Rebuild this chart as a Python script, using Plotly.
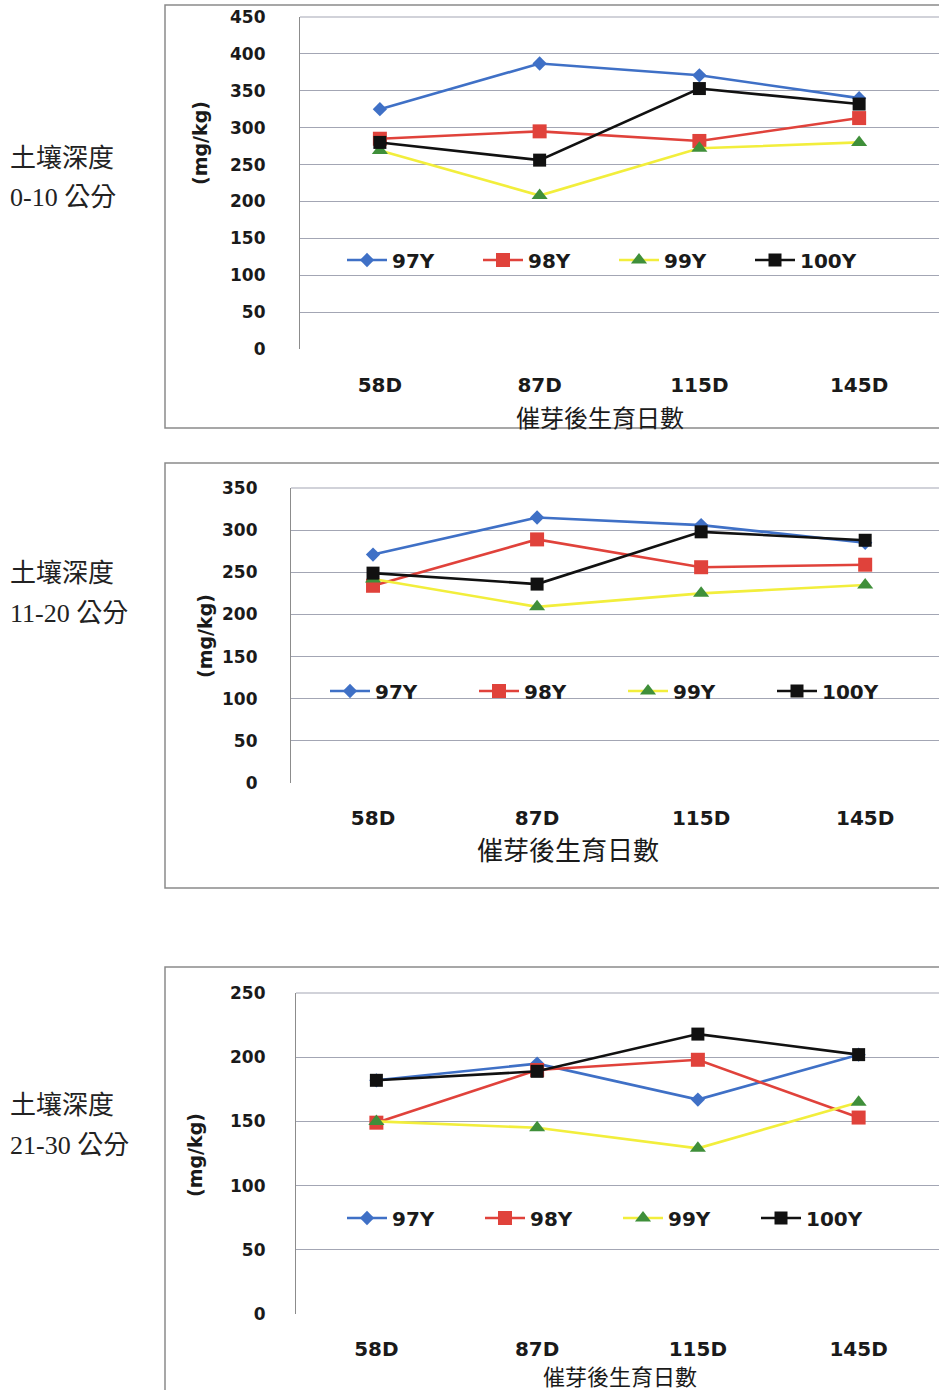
import plotly.graph_objects as go

# Sampling days after germination
days = ["58D", "87D", "115D", "145D"]
series_names = ["97Y", "98Y", "99Y", "100Y"]

# Soil content (mg/kg) at depth 0-10 cm
depth1_97 = [325, 387, 371, 340]
depth1_98 = [285, 295, 282, 313]
depth1_99 = [269, 208, 272, 280]
depth1_100 = [280, 256, 353, 332]

# Depth 11-20 cm
depth2_97 = [271, 315, 306, 285]
depth2_98 = [234, 289, 256, 259]
depth2_99 = [242, 209, 225, 235]
depth2_100 = [249, 236, 298, 288]

# Depth 21-30 cm
depth3_97 = [182, 195, 167, 202]
depth3_98 = [149, 190, 198, 153]
depth3_99 = [150, 145, 129, 165]
depth3_100 = [182, 189, 218, 202]

depth_labels = ["0-10 公分", "11-20 公分", "21-30 公分"]
y_max = [450, 350, 250]

W, H = 939, 1390

def px(x):
    return x / W

def py(y):
    return (H - y) / H

line_colors = ["#3f70c6", "#e0423b", "#f2ee3c", "#111111"]
marker_colors = ["#3f70c6", "#e0423b", "#3f8f3a", "#111111"]
symbols = ["diamond", "square", "triangle-up", "square"]
msizes = [11, 14, 14, 13]

panels = [
    dict(data=[depth1_97, depth1_98, depth1_99, depth1_100], left=300, top=17, bottom=349,
         xr=[-0.5, 3.5], frame=(5, 428), label_y=158, ytitle=(200, 143), xtitle=(600, 416),
         legend_y=260, legend_x=342, entry=81, standoff_y=30, standoff_x=22, xt_size=24),
    dict(data=[depth2_97, depth2_98, depth2_99, depth2_100], left=291, top=488, bottom=783,
         xr=[-0.5, 3.45], frame=(463, 888), label_y=573, ytitle=(205, 636), xtitle=(568, 848),
         legend_y=691, legend_x=325, entry=94, standoff_y=29, standoff_x=21, xt_size=26),
    dict(data=[depth3_97, depth3_98, depth3_99, depth3_100], left=296, top=993, bottom=1314,
         xr=[-0.5, 3.5], frame=(967, 1396), label_y=1105, ytitle=(195, 1155), xtitle=(620, 1375),
         legend_y=1218, legend_x=342, entry=83, standoff_y=26, standoff_x=21, xt_size=22),
]

tick_font = dict(family="DejaVu Sans", size=17, color="#1a1a1a", weight="bold")
fig = go.Figure()
layout = dict(template="none", width=W, height=H, margin=dict(l=0, r=0, t=0, b=0, autoexpand=False),
              paper_bgcolor="white", plot_bgcolor="white", showlegend=True)
shapes, annotations = [], []

for i, p in enumerate(panels):
    k = "" if i == 0 else str(i + 1)
    leg = "legend" if i == 0 else f"legend{i + 1}"
    for j, name in enumerate(series_names):
        fig.add_trace(go.Scatter(
            x=days, y=p["data"][j], name=name, mode="lines+markers",
            xaxis="x" + k, yaxis="y" + k, legend=leg,
            line=dict(color=line_colors[j], width=2.6),
            marker=dict(symbol=symbols[j], size=msizes[j], color=marker_colors[j],
                        line=dict(width=0)),
        ))
    layout["xaxis" + k] = dict(
        domain=[px(p["left"]), 1.0], range=p["xr"], type="category", automargin=False,
        anchor="y" + k, showgrid=False, showline=False, zeroline=False,
        ticks="", tickfont=dict(family="DejaVu Sans", size=20, color="#1a1a1a", weight="bold"),
        ticklabelstandoff=p["standoff_x"], fixedrange=True,
    )
    layout["yaxis" + k] = dict(
        domain=[py(p["bottom"]), py(p["top"])], range=[0, y_max[i]], dtick=50, automargin=False,
        anchor="x" + k, showgrid=True, gridcolor="#a3a6b4", gridwidth=1.2,
        showline=True, linecolor="#8c8c8c", linewidth=1.2, zeroline=False,
        ticks="", tickfont=tick_font, ticklabelstandoff=p["standoff_y"], fixedrange=True,
    )
    layout[leg] = dict(
        orientation="h", x=px(p["legend_x"]), y=py(p["legend_y"]), xanchor="left",
        yanchor="middle", bgcolor="rgba(0,0,0,0)",
        font=dict(family="DejaVu Sans", size=20, color="#1a1a1a", weight="bold"),
        entrywidth=p["entry"], entrywidthmode="pixels", itemwidth=40,
    )
    # panel frame
    shapes.append(dict(type="rect", xref="paper", yref="paper",
                       x0=px(165), x1=px(960), y0=py(p["frame"][1]), y1=py(p["frame"][0]),
                       line=dict(color="#8a8a8a", width=1.5), fillcolor="rgba(0,0,0,0)",
                       layer="below"))
    # top border of plot area
    shapes.append(dict(type="line", xref="paper", yref="paper",
                       x0=px(p["left"]), x1=1.0, y0=py(p["top"]), y1=py(p["top"]),
                       line=dict(color="#a3a6b4", width=1.2)))
    # axis titles
    annotations.append(dict(text="(mg/kg)", x=px(p["ytitle"][0]), y=py(p["ytitle"][1]),
                            xref="paper", yref="paper", showarrow=False, textangle=-90,
                            xanchor="center", yanchor="middle",
                            font=dict(family="DejaVu Sans", size=19, color="#1a1a1a", weight="bold")))
    annotations.append(dict(text="催芽後生育日數", x=px(p["xtitle"][0]), y=py(p["xtitle"][1]),
                            xref="paper", yref="paper", showarrow=False,
                            xanchor="center", yanchor="middle", borderpad=0,
                            font=dict(family="Noto Sans CJK TC", size=p["xt_size"], color="#1a1a1a")))
    # depth labels on the left
    annotations.append(dict(text="土壤深度", x=px(8), y=py(p["label_y"]), xref="paper", yref="paper",
                            xanchor="left", yanchor="middle", showarrow=False,
                            font=dict(family="Liberation Serif, Noto Sans CJK TC", size=26, color="#222")))
    annotations.append(dict(text=depth_labels[i], x=px(8), y=py(p["label_y"] + 40), xref="paper",
                            yref="paper", xanchor="left", yanchor="middle", showarrow=False,
                            font=dict(family="Liberation Serif, Noto Sans CJK TC", size=26, color="#222")))

layout["shapes"] = shapes
layout["annotations"] = annotations
fig.update_layout(**layout)
fig.write_html("out.html")
